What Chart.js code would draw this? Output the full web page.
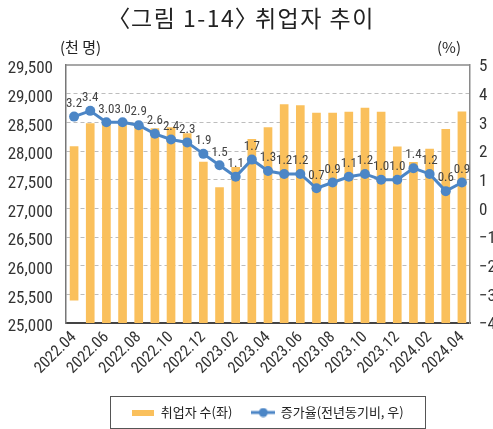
<!DOCTYPE html>
<html><head><meta charset="utf-8">
<script src="https://cdn.jsdelivr.net/npm/chart.js@4.4.1/dist/chart.umd.min.js"></script>
<style>
html,body{margin:0;padding:0;background:#fff;}
#wrap{position:relative;width:493px;height:429px;overflow:hidden;}
canvas{position:absolute;left:0;top:0;}
.t{position:absolute;font-family:'Noto Sans CJK KR',sans-serif;color:#222;white-space:nowrap;line-height:1;}
#title{font-feature-settings:"palt" 1;letter-spacing:1.5px;}
</style></head><body>
<div id="wrap">
<canvas id="c" width="493" height="429"></canvas>
<div class="t" id="title" style="left:0;width:493px;text-align:center;top:6px;font-size:23px;">〈그림 1-14〉 취업자 추이</div>
<div class="t" style="left:60px;top:39px;font-size:15px;">(천 명)</div>
<div class="t" style="left:437px;top:39px;font-size:15px;">(%)</div>
</div>
<script>
const categories = ['2022.04','2022.05','2022.06','2022.07','2022.08','2022.09','2022.10','2022.11','2022.12',
  '2023.01','2023.02','2023.03','2023.04','2023.05','2023.06','2023.07','2023.08','2023.09','2023.10','2023.11','2023.12',
  '2024.01','2024.02','2024.03','2024.04'];
const employed = [28078,28480,28477,28465,28407,28389,28410,28303,27808,27363,27714,28205,28409,28809,28791,
  28660,28663,28680,28750,28680,28071,27801,28035,28380,28685];
const growthRate = [3.2,3.4,3.0,3.0,2.9,2.6,2.4,2.3,1.9,1.5,1.1,1.7,1.3,1.2,1.2,0.7,0.9,1.1,1.2,1.0,1.0,1.4,1.2,0.6,0.9];
const firstBarFloor = 25400;
const seriesNames = ['취업자 수(좌)','증가율(전년동기비, 우)'];

const BAR = '#FAC05C';
const LINE = '#4C86C6';
const NUMFONT = "'Liberation Sans Narrow','Arial Narrow','Roboto Condensed','Liberation Sans',sans-serif";
const KRFONT = "'Noto Sans CJK KR',sans-serif";

const barData = employed.map((v,i)=> i===0 ? [firstBarFloor, v] : v);

function barIcon(){const c=document.createElement('canvas');c.width=22;c.height=6;const x=c.getContext('2d');x.fillStyle=BAR;x.fillRect(0,0,22,6);return c;}
function lineIcon(){const c=document.createElement('canvas');c.width=24;c.height=10;const x=c.getContext('2d');
  x.strokeStyle=LINE;x.lineWidth=3;x.beginPath();x.moveTo(0,5);x.lineTo(24,5);x.stroke();
  x.fillStyle=LINE;x.beginPath();x.arc(12,5,4.5,0,Math.PI*2);x.fill();return c;}
const icons=[barIcon(),lineIcon()];

const valueLabels = {
  id:'valueLabels',
  afterDatasetsDraw(chart){
    const meta=chart.getDatasetMeta(1);const ctx=chart.ctx;
    ctx.save();ctx.font="13px "+NUMFONT;ctx.fillStyle='#444';ctx.textAlign='center';ctx.textBaseline='middle';
    meta.data.forEach((p,i)=>{ctx.fillText(growthRate[i].toFixed(1),p.x,p.y-13);});
    ctx.restore();
  }
};
const frame = {
  id:'frame',
  afterDraw(chart){
    const {ctx,chartArea:a}=chart;
    ctx.save();
    ctx.strokeStyle='#8a8a8a';ctx.lineWidth=1.5;
    ctx.beginPath();ctx.moveTo(a.left,a.top);ctx.lineTo(a.right,a.top);ctx.stroke();
    const hb=chart.legend.legendHitBoxes;
    if(hb&&hb.length){
      let l=Infinity,r=-Infinity;hb.forEach(h=>{l=Math.min(l,h.left);r=Math.max(r,h.left+h.width);});
      const t=hb[0].top-10,b=hb[0].top+hb[0].height+9;
      ctx.strokeStyle='#555';ctx.lineWidth=1;
      ctx.strokeRect(Math.round(l-22)+0.5,Math.round(t)+0.5,Math.round(r-l+44),Math.round(b-t));
    }
    ctx.restore();
  }
};

new Chart(document.getElementById('c'),{
  data:{
    labels:categories,
    datasets:[
      {type:'bar',label:seriesNames[0],data:barData,backgroundColor:BAR,barThickness:8,yAxisID:'y',order:2},
      {type:'line',label:seriesNames[1],data:growthRate,borderColor:LINE,backgroundColor:LINE,borderWidth:3,
       pointRadius:5,pointBackgroundColor:LINE,pointBorderWidth:0,yAxisID:'y1',order:1,tension:0}
    ]
  },
  options:{
    responsive:false,animation:false,
    layout:{padding:{top:65,left:0,right:0,bottom:0}},
    plugins:{
      tooltip:{enabled:false},
      legend:{position:'bottom',fullSize:false,
        labels:{usePointStyle:true,pointStyleWidth:22,padding:20,color:'#222',font:{family:KRFONT,size:13},
          generateLabels(){return seriesNames.map((t,i)=>({text:t,pointStyle:icons[i],datasetIndex:i,hidden:false,lineWidth:0,strokeStyle:'rgba(0,0,0,0)',fillStyle:'rgba(0,0,0,0)',fontColor:'#222'}));}
        }}
    },
    scales:{
      x:{grid:{display:false,drawTicks:false},border:{display:true,color:'#444',width:2},
        ticks:{autoSkip:false,minRotation:45,maxRotation:45,padding:5,color:'#333',font:{family:NUMFONT,size:16},
          callback:(v,i)=> i%2===0 ? categories[i] : ''},
        afterFit(s){s.height=63;}},
      y:{position:'left',min:25000,max:29500,
        ticks:{stepSize:500,padding:13,labelOffset:4,color:'#333',font:{family:NUMFONT,size:17}},
        grid:{drawTicks:false,color:(c)=> (c.tick&&(c.tick.value===25000||c.tick.value===29500))?'rgba(0,0,0,0)':'#bdbdbd',lineWidth:1},
        border:{display:true,color:'#777',width:1.5,dash:[4,3]},
        afterFit(s){s.width=66;}},
      y1:{position:'right',min:-4,max:5,
        ticks:{stepSize:1,padding:9,labelOffset:2,color:'#333',font:{family:NUMFONT,size:17},
          callback:(v)=> v<0 ? '\u2212'+Math.abs(v) : String(v)},
        grid:{display:false,drawTicks:false},
        border:{display:true,color:'#8a8a8a',width:1.5},
        afterFit(s){s.width=23;}}
    }
  },
  plugins:[valueLabels,frame]
});
</script>
</body></html>
